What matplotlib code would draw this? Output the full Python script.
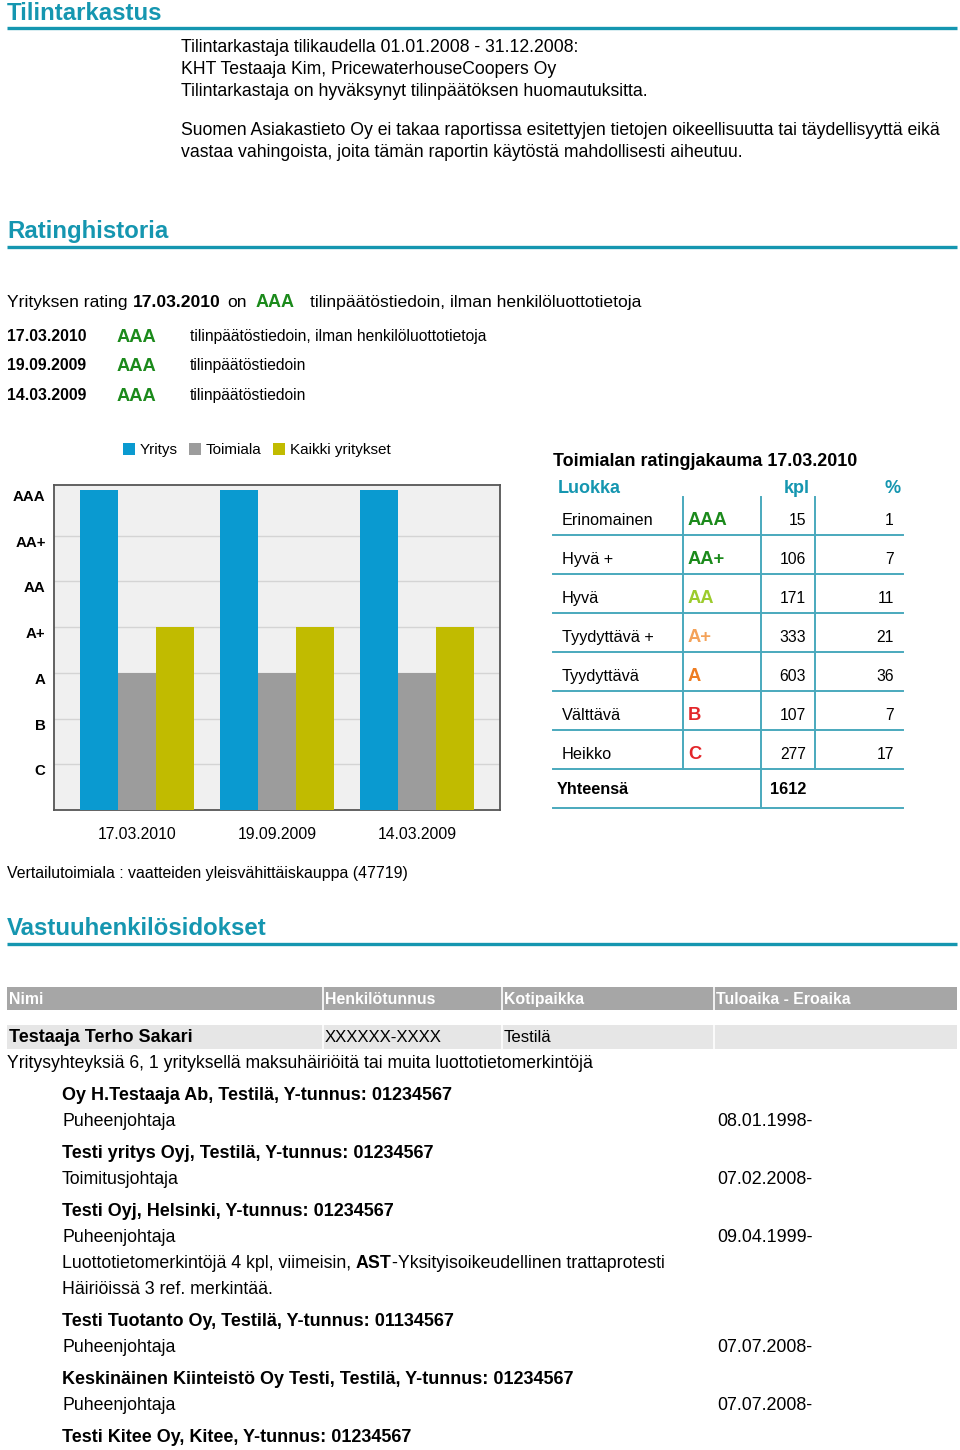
import matplotlib
matplotlib.use("Agg")
import matplotlib.pyplot as plt

plt.rcParams['font.family'] = ['Liberation Sans', 'DejaVu Sans']

# ---- data ----
audit_lines = ["Tilintarkastaja tilikaudella 01.01.2008 - 31.12.2008:",
               "KHT Testaaja Kim, PricewaterhouseCoopers Oy",
               "Tilintarkastaja on hyväksynyt tilinpäätöksen huomautuksitta."]
disclaimer = ["Suomen Asiakastieto Oy ei takaa raportissa esitettyjen tietojen oikeellisuutta tai täydellisyyttä eikä",
              "vastaa vahingoista, joita tämän raportin käytöstä mahdollisesti aiheutuu."]

hist_dates = ["17.03.2010", "19.09.2009", "14.03.2009"]
hist_ratings = ["AAA", "AAA", "AAA"]
hist_basis = ["tilinpäätöstiedoin, ilman henkilöluottotietoja", "tilinpäätöstiedoin", "tilinpäätöstiedoin"]

rating_levels = ["C", "B", "A", "A+", "AA", "AA+", "AAA"]
yritys = [7, 7, 7]       # AAA
toimiala = [3, 3, 3]     # A
kaikki = [4, 4, 4]       # A+

dist_class = ["Erinomainen", "Hyvä +", "Hyvä", "Tyydyttävä +", "Tyydyttävä", "Välttävä", "Heikko"]
dist_rating = ["AAA", "AA+", "AA", "A+", "A", "B", "C"]
dist_kpl = [15, 106, 171, 333, 603, 107, 277]
dist_pct = [1, 7, 11, 21, 36, 7, 17]

person_cols = ["Nimi", "Henkilötunnus", "Kotipaikka", "Tuloaika - Eroaika"]
person_row = ["Testaaja Terho Sakari", "XXXXXX-XXXX", "Testilä", ""]
companies = ["Oy H.Testaaja Ab, Testilä, Y-tunnus: 01234567",
             "Testi yritys Oyj, Testilä, Y-tunnus: 01234567",
             "Testi Oyj, Helsinki, Y-tunnus: 01234567",
             "Testi Tuotanto Oy, Testilä, Y-tunnus: 01134567",
             "Keskinäinen Kiinteistö Oy Testi, Testilä, Y-tunnus: 01234567",
             "Testi Kitee Oy, Kitee, Y-tunnus: 01234567"]
roles = ["Puheenjohtaja", "Toimitusjohtaja", "Puheenjohtaja", "Puheenjohtaja", "Puheenjohtaja", None]
starts = ["08.01.1998-", "07.02.2008-", "09.04.1999-", "07.07.2008-", "07.07.2008-", None]

# ---- styles ----
TEAL = '#1596b0'
BLUE = '#0a9ad0'
GRAY = '#9c9c9c'
OLIVE = '#c1bb00'
RCOL = {"AAA": '#1b8a1b', "AA+": '#1b8a1b', "AA": '#9ccb2c', "A+": '#f4a259',
        "A": '#ee7d22', "B": '#e3262a', "C": '#e3262a'}


def pt(px):
    return px * 72 / 100


fig = plt.figure(figsize=(9.6, 14.5), dpi=100)
page = fig.add_axes([0, 0, 1, 1])
page.set_xlim(0, 960)
page.set_ylim(1450, 0)
page.axis('off')
renderer = fig.canvas.get_renderer()


def txt(x, y, s, size=17.6, **kw):
    kw.setdefault('va', 'center')
    return page.text(x, y, s, fontsize=pt(size), **kw)


def chain(x, y, pieces, size=17.8):
    # draw consecutive text pieces, each starting where the last ended
    for s, weight in pieces:
        t = txt(x, y, s, size=size, fontweight=weight)
        bb = t.get_window_extent(renderer)
        x += bb.width


def header(y, s, line_y):
    txt(7, y, s, size=24, color=TEAL, fontweight='bold')
    page.plot([7, 957], [line_y, line_y], color=TEAL, lw=2.4, solid_capstyle='butt')


# Tilintarkastus
header(13, "Tilintarkastus", 28)
for i, s in enumerate(audit_lines):
    txt(181, 47 + i * 22, s)
for i, s in enumerate(disclaimer):
    txt(181, 130 + i * 22, s)

# Ratinghistoria
header(231, "Ratinghistoria", 247)
y0 = 302
txt(7, y0, "Yrityksen rating", size=17.5)
txt(133, y0, hist_dates[0], size=17.5, fontweight='bold')
txt(227, y0, "on", size=17.5)
txt(256, y0, hist_ratings[0], size=18, fontweight='bold', color=RCOL[hist_ratings[0]])
txt(310, y0, hist_basis[0], size=17.5)
for i, (d, r, b) in enumerate(zip(hist_dates, hist_ratings, hist_basis)):
    yy = 336 + i * 29.5
    txt(7, yy, d, size=15.9, fontweight='bold')
    txt(117, yy + 1, r, size=18.4, fontweight='bold', color=RCOL[r])
    txt(190, yy, b, size=15.6)

# ---- bar chart ----
ax = fig.add_axes([54 / 960, 1 - 810 / 1450, 446 / 960, 325 / 1450])
ax.set_facecolor('#f0f0f0')
xs = range(len(hist_dates))
w = 0.271
ax.bar([x - w for x in xs], yritys, w, color=BLUE, label='Yritys', zorder=3)
ax.bar(list(xs), toimiala, w, color=GRAY, label='Toimiala', zorder=3)
ax.bar([x + w for x in xs], kaikki, w, color=OLIVE, label='Kaikki yritykset', zorder=3)
ax.set_xlim(-0.593, 2.593)
ax.set_ylim(0, 7.11)
ax.set_yticks(range(1, 8))
ax.set_yticklabels(rating_levels, fontweight='bold', fontsize=pt(15), va='top')
ax.set_xticks(list(xs))
ax.set_xticklabels(hist_dates, fontsize=pt(15.8))
ax.tick_params(axis='both', length=0)
ax.tick_params(axis='y', pad=6)
ax.tick_params(axis='x', pad=12)
for yl in range(1, 7):
    ax.axhline(yl, color='#d4d4d4', lw=1, zorder=1)
for sp in ax.spines.values():
    sp.set_color('#555555')
    sp.set_linewidth(1.3)
ax.legend(loc='lower left', bbox_to_anchor=(0.155, 1.085), ncol=3, frameon=False,
          fontsize=pt(15.3), handlelength=0.75, handleheight=0.75, handletextpad=0.3,
          columnspacing=0.8, borderpad=0, borderaxespad=0)

# ---- distribution table ----
txt(553, 461, "Toimialan ratingjakauma 17.03.2010", size=17.9, fontweight='bold')
txt(558, 488, "Luokka", size=18, fontweight='bold', color=TEAL)
txt(810, 488, "kpl", size=18, fontweight='bold', color=TEAL, ha='right')
txt(901, 488, "%", size=18, fontweight='bold', color=TEAL, ha='right')
row_lines = [535, 574, 613, 652, 691, 730, 769, 808]
for yl in row_lines:
    page.plot([553, 903], [yl, yl], color='#4aa9bd', lw=1.4)
page.plot([683, 683], [497, 769], color='#4aa9bd', lw=1.4)
page.plot([761, 761], [497, 808], color='#4aa9bd', lw=1.4)
page.plot([815, 815], [497, 769], color='#4aa9bd', lw=1.4)
for i in range(len(dist_class)):
    yy = 520 + i * 39
    txt(562, yy, dist_class[i], size=16.2)
    txt(688, yy, dist_rating[i], size=18.4, fontweight='bold', color=RCOL[dist_rating[i]])
    txt(806, yy, str(dist_kpl[i]), size=15.8, ha='right')
    txt(894, yy, str(dist_pct[i]), size=15.8, ha='right')
txt(557, 789, "Yhteensä", size=16.2, fontweight='bold')
txt(806, 789, str(sum(dist_kpl)), size=16.2, fontweight='bold', ha='right')

txt(7, 873, "Vertailutoimiala : vaatteiden yleisvähittäiskauppa (47719)", size=15.9)

# ---- Vastuuhenkilösidokset ----
header(928, "Vastuuhenkilösidokset", 944)
col_x = [7, 323, 502, 714, 957]
page.fill_between([7, 957], 987, 1010, color='#a6a6a6', lw=0)
page.fill_between([7, 957], 1025, 1049, color='#e6e6e6', lw=0)
for cx in col_x[1:-1]:
    page.plot([cx, cx], [987, 1010], color='white', lw=1.2)
    page.plot([cx, cx], [1025, 1049], color='white', lw=1.2)
for i, c in enumerate(person_cols):
    txt(col_x[i] + 2, 999, c, size=15.9, color='white', fontweight='bold')
txt(col_x[0] + 2, 1038, person_row[0], size=18, fontweight='bold')
for i, c in enumerate(person_row[1:], start=1):
    txt(col_x[i] + 2, 1038, c, size=16.7)
txt(7, 1063, "Yritysyhteyksiä 6, 1 yrityksellä maksuhäiriöitä tai muita luottotietomerkintöjä", size=17.6)

yy = 1096
for comp, role, start in zip(companies, roles, starts):
    txt(62, yy, comp, size=18, fontweight='bold')
    if role is None:
        break
    txt(62, yy + 26, role, size=17.8)
    txt(717, yy + 26, start, size=17.9)
    if comp.startswith("Testi Oyj"):
        chain(62, yy + 52, [("Luottotietomerkintöjä 4 kpl, viimeisin, ", 'normal'),
                            ("AST", 'bold'),
                            ("-Yksityisoikeudellinen trattaprotesti", 'normal')])
        txt(62, yy + 78, "Häiriöissä 3 ref. merkintää.", size=17.8)
        yy += 52
    yy += 58

fig.savefig("out.png", dpi=100)
